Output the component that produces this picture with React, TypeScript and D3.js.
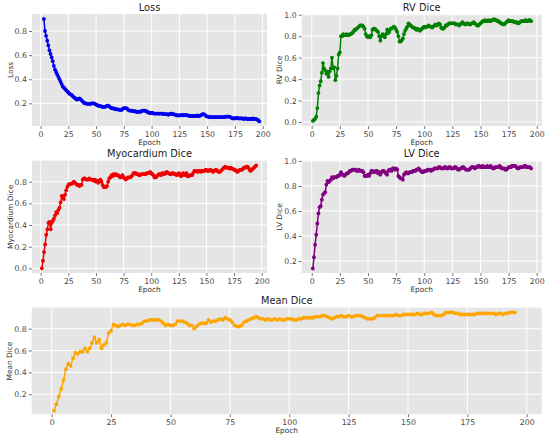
import React, { useEffect, useRef } from 'react';
import * as d3 from 'd3';

const WIDTH = 550;
const HEIGHT = 442;

// x ticks shared by every panel
const epochTicks = [0, 25, 50, 75, 100, 125, 150, 175, 200];

// loss starts at epoch 3, the dice series at epoch 1
const lossStart = 3;
const diceStart = 1;

const lossValues = [
  .90, .80, .76, .72, .68, .64, .61, .58, .55, .51,
  .48, .46, .44, .42, .40, .38, .36, .34, .33, .32,
  .31, .30, .29, .28, .275, .27, .26, .25, .245, .235,
  .23, .235, .24, .235, .225, .215, .205, .20, .20, .195,
  .195, .195, .195, .20, .20, .20, .195, .19, .185, .18,
  .18, .175, .175, .17, .17, .17, .175, .18, .18, .175,
  .165, .16, .16, .155, .155, .15, .15, .15, .145, .145,
  .145, .155, .16, .16, .16, .155, .145, .14, .14, .14,
  .135, .135, .135, .13, .13, .13, .13, .13, .135, .14,
  .14, .14, .135, .13, .125, .12, .12, .12, .12, .115,
  .115, .115, .115, .115, .115, .115, .115, .115, .11, .11,
  .11, .11, .105, .11, .115, .115, .11, .11, .105, .105,
  .10, .10, .10, .10, .105, .105, .10, .105, .105, .10,
  .10, .095, .095, .095, .095, .095, .095, .095, .10, .095,
  .095, .10, .105, .11, .11, .105, .095, .09, .09, .085,
  .085, .085, .085, .085, .085, .085, .085, .085, .085, .085,
  .085, .085, .085, .085, .09, .09, .09, .09, .085, .08,
  .075, .075, .075, .08, .08, .075, .075, .075, .075, .075,
  .07, .075, .075, .07, .07, .07, .07, .07, .075, .07,
  .07, .07, .065, .06, .05
];

const rvDice = [
  .01, .02, .03, .05, .13, .27, .34, .38, .46, .55,
  .50, .48, .45, .47, .42, .47, .50, .60, .50, .51,
  .39, .43, .50, .63, .65, .80, .80, .82, .81, .81,
  .82, .81, .81, .82, .82, .83, .84, .86, .86, .87,
  .88, .89, .90, .90, .90, .89, .87, .82, .80, .79,
  .80, .79, .81, .86, .87, .87, .86, .85, .84, .80,
  .76, .80, .82, .80, .79, .82, .86, .83, .84, .87,
  .87, .88, .89, .88, .86, .84, .80, .75, .75, .76,
  .78, .82, .85, .87, .89, .92, .91, .90, .89, .88,
  .88, .87, .86, .87, .86, .85, .86, .87, .88, .89,
  .88, .89, .89, .90, .89, .89, .88, .89, .90, .91,
  .90, .91, .92, .91, .88, .87, .87, .88, .90, .90,
  .91, .92, .92, .92, .92, .92, .92, .91, .91, .91,
  .90, .91, .92, .93, .92, .91, .91, .92, .92, .91,
  .91, .92, .92, .93, .92, .91, .90, .90, .91, .92,
  .93, .94, .94, .95, .94, .94, .95, .94, .94, .95,
  .95, .96, .95, .95, .94, .94, .93, .92, .92, .91,
  .91, .92, .93, .94, .95, .94, .94, .94, .94, .93,
  .93, .93, .92, .92, .93, .94, .94, .94, .94, .95,
  .94, .94, .95, .95, .94
];

const myoDice = [
  .00, .07, .15, .22, .31, .36, .42, .43, .36, .42,
  .44, .46, .49, .52, .51, .54, .56, .61, .67, .66,
  .64, .68, .72, .75, .77, .78, .78, .78, .79, .80,
  .79, .78, .77, .77, .76, .77, .77, .82, .83, .83,
  .82, .82, .82, .83, .82, .82, .82, .81, .82, .80,
  .81, .79, .81, .82, .80, .77, .75, .75, .75, .76,
  .80, .83, .84, .86, .85, .87, .86, .87, .86, .86,
  .85, .84, .85, .86, .84, .83, .82, .83, .84, .84,
  .84, .85, .86, .88, .88, .88, .87, .87, .86, .86,
  .87, .87, .87, .87, .87, .88, .88, .88, .89, .88,
  .87, .86, .84, .84, .85, .86, .87, .87, .86, .88,
  .88, .87, .88, .89, .88, .88, .87, .87, .88, .88,
  .87, .87, .86, .87, .88, .86, .85, .87, .88, .86,
  .87, .88, .85, .85, .86, .86, .86, .88, .90, .90,
  .90, .89, .90, .90, .89, .90, .90, .90, .91, .91,
  .90, .90, .91, .91, .90, .89, .90, .91, .91, .90,
  .89, .89, .90, .91, .92, .93, .94, .93, .93, .93,
  .92, .93, .92, .92, .91, .91, .90, .89, .90, .91,
  .91, .91, .92, .93, .93, .94, .94, .93, .91, .90,
  .91, .92, .93, .94, .95
];

const lvDice = [
  .14, .23, .33, .41, .50, .58, .63, .64, .69, .73,
  .74, .75, .81, .84, .83, .84, .85, .87, .86, .87,
  .87, .87, .88, .88, .89, .91, .89, .89, .88, .89,
  .90, .90, .91, .92, .92, .93, .93, .93, .93, .92,
  .92, .93, .92, .92, .92, .91, .88, .88, .88, .89,
  .88, .90, .92, .92, .91, .91, .92, .92, .90, .91,
  .89, .91, .92, .92, .91, .90, .89, .92, .93, .93,
  .92, .94, .94, .93, .94, .93, .88, .87, .86, .86,
  .85, .89, .90, .91, .90, .90, .91, .91, .91, .92,
  .92, .92, .93, .93, .94, .93, .92, .91, .91, .92,
  .92, .92, .93, .93, .93, .92, .93, .93, .94, .94,
  .94, .94, .95, .95, .94, .94, .94, .95, .95, .94,
  .94, .95, .95, .94, .94, .94, .95, .95, .94, .93,
  .93, .94, .94, .95, .95, .94, .93, .93, .93, .93,
  .94, .95, .95, .95, .94, .95, .95, .96, .96, .95,
  .95, .96, .95, .95, .95, .96, .95, .95, .96, .95,
  .94, .94, .95, .95, .95, .95, .96, .95, .94, .94,
  .94, .93, .93, .94, .95, .95, .95, .96, .96, .96,
  .96, .95, .94, .94, .95, .95, .95, .95, .96, .96,
  .95, .95, .95, .95, .94
];

const meanDice = [
  .05, .11, .18, .25, .33, .43, .48, .46, .53, .58,
  .57, .59, .59, .62, .59, .62, .67, .72, .67, .70,
  .62, .65, .67, .76, .78, .84, .83, .82, .83, .84,
  .83, .84, .84, .83, .83, .84, .84, .85, .87, .87,
  .88, .88, .88, .88, .88, .87, .85, .83, .84, .83,
  .83, .84, .87, .87, .87, .86, .85, .83, .83, .80,
  .82, .84, .85, .85, .85, .88, .86, .87, .87, .88,
  .89, .88, .90, .89, .88, .86, .83, .82, .82, .83,
  .86, .87, .88, .89, .90, .91, .90, .89, .89, .88,
  .89, .88, .88, .89, .88, .89, .88, .88, .89, .89,
  .89, .88, .88, .89, .89, .90, .90, .90, .90, .90,
  .91, .91, .91, .92, .92, .91, .90, .89, .90, .91,
  .91, .92, .91, .91, .92, .91, .91, .92, .92, .92,
  .91, .90, .89, .89, .89, .90, .92, .92, .92, .92,
  .92, .92, .92, .92, .93, .92, .92, .93, .93, .93,
  .93, .93, .93, .94, .93, .93, .94, .94, .94, .95,
  .93, .92, .92, .92, .93, .95, .95, .95, .95, .94,
  .94, .93, .93, .93, .93, .93, .93, .93, .94, .94,
  .94, .94, .94, .94, .94, .94, .93, .94, .94, .93,
  .94, .94, .95, .95, .95
];

const lossTicks = [0.2, 0.4, 0.6, 0.8];
const rvTicks = [0.0, 0.2, 0.4, 0.6, 0.8, 1.0];
const myoTicks = [0.0, 0.2, 0.4, 0.6, 0.8];
const lvTicks = [0.2, 0.4, 0.6, 0.8, 1.0];
const meanTicks = [0.2, 0.4, 0.6, 0.8];

interface Panel {
  title: string;
  ylabel: string;
  values: number[];
  start: number;
  color: string;
  yTicks: number[];
  xDomain: [number, number];
  yDomain: [number, number];
  box: { left: number; right: number; top: number; bottom: number };
}

const panels: Panel[] = [
  {
    title: 'Loss', ylabel: 'Loss', values: lossValues, start: lossStart, color: '#0000ee',
    yTicks: lossTicks, xDomain: [-7.7, 203.9], yDomain: [0.012, 0.941],
    box: { left: 32, right: 267, top: 14, bottom: 126 }
  },
  {
    title: 'RV Dice', ylabel: 'RV Dice', values: rvDice, start: diceStart, color: '#008000',
    yTicks: rvTicks, xDomain: [-8.9, 204.4], yDomain: [-0.037, 1.007],
    box: { left: 301.7, right: 541.7, top: 14, bottom: 126 }
  },
  {
    title: 'Myocardium Dice', ylabel: 'Myocardium Dice', values: myoDice, start: diceStart, color: '#ee0000',
    yTicks: myoTicks, xDomain: [-7.9, 204.8], yDomain: [-0.043, 0.994],
    box: { left: 32, right: 267, top: 160.7, bottom: 273 }
  },
  {
    title: 'LV Dice', ylabel: 'LV Dice', values: lvDice, start: diceStart, color: '#800080',
    yTicks: lvTicks, xDomain: [-8.9, 204.4], yDomain: [0.104, 1.002],
    box: { left: 301.7, right: 541.7, top: 160.7, bottom: 273 }
  },
  {
    title: 'Mean Dice', ylabel: 'Mean Dice', values: meanDice, start: diceStart, color: '#ffa500',
    yTicks: meanTicks, xDomain: [-8.4, 206.3], yDomain: [0.017, 0.992],
    box: { left: 31.7, right: 541.7, top: 307.7, bottom: 414.3 }
  }
];

const FONT = '"DejaVu Sans", sans-serif';

const TrainingCurves: React.FC = () => {
  const svgRef = useRef<SVGSVGElement>(null);

  useEffect(() => {
    if (!svgRef.current) return;
    const svg = d3.select(svgRef.current);
    svg.selectAll('*').remove();

    svg.append('rect')
      .attr('width', WIDTH)
      .attr('height', HEIGHT)
      .attr('fill', '#ffffff');

    panels.forEach(p => {
      const { left, right, top, bottom } = p.box;
      const x = d3.scaleLinear().domain(p.xDomain).range([left, right]);
      const y = d3.scaleLinear().domain(p.yDomain).range([bottom, top]);
      const g = svg.append('g');

      // ggplot-style background
      g.append('rect')
        .attr('x', left)
        .attr('y', top)
        .attr('width', right - left)
        .attr('height', bottom - top)
        .attr('fill', '#e5e5e5');

      // grid
      g.selectAll('line.vgrid')
        .data(epochTicks)
        .enter()
        .append('line')
        .attr('x1', d => x(d))
        .attr('x2', d => x(d))
        .attr('y1', top)
        .attr('y2', bottom)
        .attr('stroke', '#ffffff')
        .attr('stroke-width', 1);

      g.selectAll('line.hgrid')
        .data(p.yTicks)
        .enter()
        .append('line')
        .attr('x1', left)
        .attr('x2', right)
        .attr('y1', d => y(d))
        .attr('y2', d => y(d))
        .attr('stroke', '#ffffff')
        .attr('stroke-width', 1);

      // axes
      const xAxis = d3.axisBottom(x).tickValues(epochTicks).tickSize(3).tickPadding(2)
        .tickFormat(d => String(d));
      const yAxis = d3.axisLeft(y).tickValues(p.yTicks).tickSize(3).tickPadding(2)
        .tickFormat(d => d3.format('.1f')(d as number));

      const xg = g.append('g').attr('transform', `translate(0,${bottom})`).call(xAxis);
      const yg = g.append('g').attr('transform', `translate(${left},0)`).call(yAxis);
      [xg, yg].forEach(a => {
        a.attr('font-family', null).attr('font-size', null);
        a.select('.domain').remove();
        a.selectAll('line').attr('stroke', '#555555').attr('stroke-width', 0.8);
        a.selectAll('text')
          .attr('fill', '#4a4a4a')
          .style('font-family', FONT)
          .style('font-weight', 'normal')
          .style('font-size', '7.8px');
      });

      // line + markers
      const pts = p.values.map((v, i) => ({ e: p.start + i, v }));
      const line = d3.line<{ e: number; v: number }>()
        .x(d => x(d.e))
        .y(d => y(d.v));

      g.append('path')
        .datum(pts)
        .attr('d', line)
        .attr('fill', 'none')
        .attr('stroke', p.color)
        .attr('stroke-width', 1.5);

      g.selectAll('circle')
        .data(pts)
        .enter()
        .append('circle')
        .attr('cx', d => x(d.e))
        .attr('cy', d => y(d.v))
        .attr('r', 1.9)
        .attr('fill', p.color);

      // labels
      g.append('text')
        .attr('x', (left + right) / 2)
        .attr('y', top - 3.5)
        .attr('text-anchor', 'middle')
        .attr('fill', '#222222')
        .style('font-family', FONT)
        .style('font-weight', 'normal')
        .style('font-size', '9.8px')
        .text(p.title);

      g.append('text')
        .attr('x', (left + right) / 2)
        .attr('y', bottom + 18.5)
        .attr('text-anchor', 'middle')
        .attr('fill', '#333333')
        .style('font-family', FONT)
        .style('font-weight', 'normal')
        .style('font-size', '7.4px')
        .text('Epoch');

      g.append('text')
        .attr('transform', `translate(${left - 19.5},${(top + bottom) / 2}) rotate(-90)`)
        .attr('text-anchor', 'middle')
        .attr('fill', '#333333')
        .style('font-family', FONT)
        .style('font-weight', 'normal')
        .style('font-size', '7.4px')
        .text(p.ylabel);
    });
  }, []);

  return (
    <svg
      ref={svgRef}
      width={WIDTH}
      height={HEIGHT}
      style={{ position: 'absolute', left: 0, top: 0 }}
    />
  );
};

export default function App() {
  return <TrainingCurves />;
}
